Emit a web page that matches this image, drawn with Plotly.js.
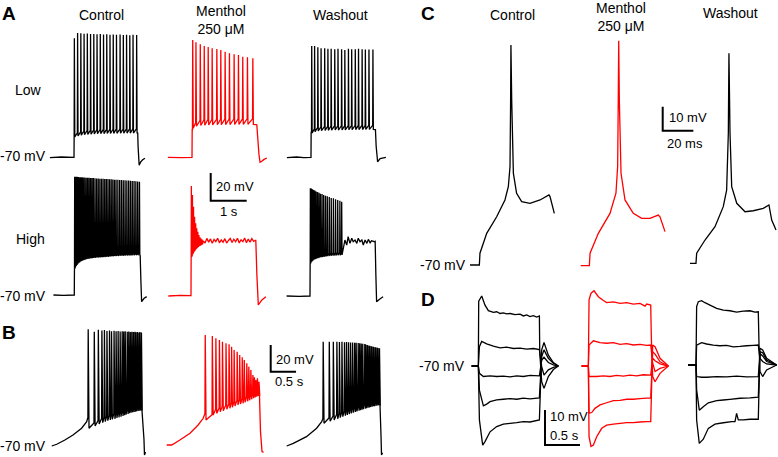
<!DOCTYPE html>
<html>
<head>
<meta charset="utf-8">
<script src="https://cdn.plot.ly/plotly-3.0.1.min.js"></script>
<style>html,body{margin:0;padding:0;background:#fff;}#chart{width:778px;height:457px;}</style>
</head>
<body>
<div id="chart"></div>
<script>
// ================= DATA =================
// Text
const conditionLabels = ['Control', 'Menthol<br>250 μM', 'Washout'];
const rowLabels = ['Low', 'High'];
const panelLetters = ['A', 'B', 'C', 'D'];
const restLabel = '-70 mV';
// Scale bars: [A, B, C, D]
const scaleMV = [20, 20, 10, 10];
const scaleT = [1, 0.5, 20, 0.5];
const scaleMVLabels = ['20 mV', '20 mV', '10 mV', '10 mV'];
const scaleTLabels = ['1 s', '0.5 s', '20 ms', '0.5 s'];

// ---- Panel A, low current (time s, voltage mV) ----
const aLowCtrlPre = [[-0.67,-70.2],[-0.35,-69.8],[0,-70],[0.004,-55.5]];
const aLowCtrlSpikeT = [0.01,0.10,0.19,0.28,0.37,0.46,0.55,0.64,0.73,0.82,0.91,1.00,1.09,1.18,1.28,1.37,1.46,1.55,1.64,1.74];
const aLowCtrlPeak = [16.0,19.8,19.5,19.2,19.4,19.0,19.1,18.8,19.0,18.7,18.8,18.5,18.7,18.4,18.6,18.3,18.5,18.2,18.4,18.3];
const aLowCtrlTrough = [-55.3,-54.6,-54.0,-53.7,-53.5,-53.3,-53.1,-53.0,-52.9,-52.9,-52.8,-52.8,-52.7,-52.7,-52.6,-52.6,-52.5,-52.5,-52.5,-52.4];
const aLowCtrlPost = [[1.77,-52.5],[1.78,-62],[1.81,-75.8],[1.85,-73.5],[1.90,-72],[1.97,-70.7]];

const aLowMentPre = [[-0.67,-70],[-0.3,-70.2],[0,-70],[0.005,-50]];
const aLowMentSpikeT = [0.02,0.11,0.23,0.34,0.45,0.56,0.69,0.80,0.92,1.04,1.17,1.29,1.41,1.54,1.69];
const aLowMentPeak = [14.7,13.0,11.6,10.4,9.6,8.7,8.2,7.5,6.2,5.1,4.4,3.9,2.6,2.2,1.5];
const aLowMentTrough = [-49.0,-47.5,-47.0,-46.8,-46.7,-46.6,-46.5,-46.5,-46.4,-46.4,-46.3,-46.3,-46.2,-46.2,-46.2];
const aLowMentPost = [[1.80,-46.5],[1.86,-68],[1.89,-73.6],[1.93,-73],[2.0,-71.5],[2.08,-70.5]];

const aLowWashPre = [[-0.67,-70.3],[-0.4,-69.8],[-0.2,-70.2],[0,-70],[0.004,-52]];
const aLowWashSpikeT = [0.02,0.10,0.19,0.28,0.38,0.47,0.56,0.66,0.75,0.85,0.94,1.04,1.13,1.23,1.32,1.42,1.51,1.61,1.72];
const aLowWashPeak = [10.4,10.4,9.5,8.8,8.8,8.3,8.3,8.0,8.3,8.0,7.5,8.3,8.0,8.0,8.3,8.0,7.8,7.8,7.8];
const aLowWashTrough = [-52.5,-51.5,-51.0,-50.8,-50.6,-50.5,-50.4,-50.3,-50.3,-50.2,-50.2,-50.1,-50.1,-50.0,-50.0,-50.0,-49.9,-49.9,-49.9];
const aLowWashPost = [[1.79,-50],[1.81,-62],[1.85,-73.2],[1.92,-70.9],[2.08,-70]];

// ---- Panel A, high current ----
const aHighCtrlPre = [[-0.58,-70],[-0.3,-70.2],[0,-70],[0.004,-52]];
const aHighCtrlSpikeT = [0.01,0.04,0.075,0.11,0.145,0.18,0.215,0.25,0.29,0.33,0.37,0.41,0.45,0.49,0.53,0.575,0.62,0.665,0.71,0.755,0.80,0.845,0.89,0.935,0.98,1.025,1.07,1.115,1.16,1.21,1.26,1.31,1.36,1.41,1.46,1.51,1.56,1.61,1.66,1.71,1.76,1.81];
const aHighCtrlPeak = [15.4,15.3,15.3,15.2,15.1,15.0,15.0,14.9,14.8,14.7,14.7,14.6,14.5,14.4,14.4,14.3,14.2,14.1,14.0,14.0,13.9,13.8,13.7,13.7,13.6,13.5,13.4,13.3,13.3,13.2,13.1,13.0,12.9,12.8,12.7,12.6,12.5,12.4,12.3,12.1,12.0,11.8];
const aHighCtrlTrough = [-50.7,-49.2,-48.0,-47.0,-46.2,-45.6,-45.1,-44.7,-44.4,-44.1,-43.9,-43.7,-43.5,-43.4,-43.2,-43.1,-43.0,-42.9,-42.8,-42.7,-42.6,-42.5,-42.4,-42.3,-42.2,-42.1,-42.0,-41.9,-41.9,-41.8,-41.7,-41.7,-41.6,-41.5,-41.5,-41.4,-41.4,-41.3,-41.3,-41.2,-41.2,-41.1];
const aHighCtrlPost = [[1.83,-41.5],[1.85,-60],[1.87,-74.8],[1.94,-72.4],[2.01,-71.2]];

const aHighMentPre = [[-0.63,-70.2],[-0.3,-69.8],[0,-70],[0.004,-42]];
const aHighMentSpikeT = [0.01,0.04,0.07,0.10,0.13,0.16,0.19,0.22,0.25,0.28,0.31];
const aHighMentPeak = [9.2,2.7,-5.7,-13.0,-17.7,-21.3,-23.8,-26.2,-27.8,-28.8,-29.4];
const aHighMentTrough = [-41.8,-39.9,-38.4,-37.4,-36.3,-35.6,-34.8,-34.1,-33.8,-33.4,-33.0];
const aHighMentPlateauT = [0.34,0.39,0.44,0.49,0.54,0.59,0.64,0.69,0.74,0.79,0.84,0.89,0.94,0.99,1.04,1.09,1.14,1.19,1.24,1.29,1.34,1.39,1.44,1.49,1.54,1.59,1.64,1.69,1.74,1.79];
const aHighMentPlateauV = [-30.4,-32.0,-28.6,-31.3,-29.0,-32.1,-29.4,-30.9,-28.5,-31.8,-29.7,-31.4,-28.8,-32.0,-30.1,-28.7,-31.6,-29.2,-31.1,-28.5,-31.9,-29.6,-31.0,-28.4,-31.7,-29.1,-31.3,-28.8,-30.8,-30.0];
const aHighMentPost = [[1.80,-30],[1.83,-55],[1.87,-76.7],[1.97,-73.1],[2.08,-70.7]];

const aHighWashPre = [[-0.65,-70],[-0.3,-70.2],[0,-70],[0.004,-47]];
const aHighWashSpikeT = [0.01,0.04,0.07,0.10,0.135,0.17,0.21,0.25,0.29,0.335,0.38,0.43,0.48,0.535,0.59,0.65,0.71,0.77,0.83,0.88];
const aHighWashPeak = [7.8,7.6,7.0,6.6,6.1,5.4,5.0,4.6,3.9,3.6,3.0,2.4,2.1,1.4,0.8,0.5,-0.2,-0.6,-1.3,-2.0];
const aHighWashTrough = [-46.5,-45.2,-44.4,-43.8,-43.3,-42.9,-42.6,-42.3,-42.0,-41.8,-41.6,-41.4,-41.2,-41.0,-40.9,-40.8,-40.7,-40.6,-40.5,-40.4];
const aHighWashPlateauT = [0.97,1.02,1.06,1.11,1.16,1.20,1.25,1.30,1.34,1.39,1.44,1.48,1.53,1.58,1.62,1.67,1.71,1.79];
const aHighWashPlateauV = [-29.6,-33.2,-27.2,-32.0,-28.3,-30.8,-29.6,-32.0,-28.3,-30.8,-29.6,-33.2,-29.6,-32.0,-29.1,-31.5,-30.1,-30.8];
const aHighWashPost = [[1.81,-30.5],[1.83,-55],[1.85,-74.1],[1.94,-72.2],[2.03,-70.5]];

// ---- Panel B, ramp current ----
const bCtrlPre = [[0,-70],[0.10,-68.7],[0.26,-65.5],[0.42,-61.8],[0.59,-56.7],[0.69,-51.8],[0.715,-48.5]];
const bCtrlSpikeT = [0.72,0.84,0.92,0.99,1.04,1.09,1.14,1.18,1.23,1.27,1.31,1.35,1.39,1.42,1.45,1.49,1.52,1.55,1.58,1.61,1.64,1.66,1.69,1.72,1.74,1.77];
const bCtrlPeak = [17.4,15.6,17.0,16.5,16.8,16.2,16.6,16.0,16.4,16.0,16.2,15.8,16.0,15.7,15.9,15.5,15.8,15.4,15.6,15.3,15.5,15.2,15.4,15.1,15.3,15.0];
const bCtrlTrough = [-56.7,-55.0,-53.5,-52.5,-51.8,-51.0,-50.5,-50.0,-49.6,-49.0,-48.5,-48.1,-47.5,-47.0,-46.6,-46.0,-45.5,-45.1,-44.8,-44.5,-44.3,-44.0,-43.8,-43.6,-43.3,-43.0];
const bCtrlPost = [[1.78,-43],[1.82,-65],[1.83,-76.7],[1.85,-74.5]];

const bMentPre = [[0,-70],[0.10,-70],[0.26,-66.3],[0.46,-61.2],[0.62,-55.0],[0.72,-50.0],[0.755,-46.3]];
const bMentSpikeT = [0.76,0.90,0.97,1.04,1.10,1.17,1.23,1.28,1.33,1.39,1.44,1.49,1.53,1.58,1.62,1.66,1.70,1.73,1.76,1.79,1.82];
const bMentPeak = [12.4,11.6,9.9,8.7,7.4,6.2,5.4,3.6,1.2,-0.1,-2.6,-4.3,-6.3,-8.8,-11.3,-13.8,-17.6,-19.3,-21.3,-20.0,-22.6];
const bMentTrough = [-51.3,-47.5,-46.3,-45.1,-44.3,-43.3,-42.5,-41.7,-40.8,-40.0,-39.3,-38.8,-38.0,-37.3,-36.5,-35.8,-35.0,-34.3,-33.8,-33.3,-32.8];
const bMentPost = [[1.83,-33],[1.85,-60],[1.88,-75],[1.91,-75.5]];

const bWashPre = [[0,-70],[0.13,-68.0],[0.39,-63.0],[0.59,-56.7],[0.69,-51.8],[0.715,-49.3]];
const bWashSpikeT = [0.72,0.84,0.92,0.99,1.04,1.09,1.14,1.18,1.22,1.26,1.30,1.34,1.37,1.41,1.44,1.47,1.50,1.54,1.56,1.59,1.62,1.64,1.67,1.70,1.72,1.75,1.78,1.80,1.83];
const bWashPeak = [8.1,8.1,8.0,8.1,7.9,8.0,7.8,7.9,7.7,7.6,7.6,7.4,7.3,7.2,7.0,6.8,6.6,6.4,6.0,5.6,5.3,5.0,4.8,4.5,4.2,4.0,3.7,3.4,3.2];
const bWashTrough = [-53,-51.5,-50.5,-49.6,-48.8,-48,-47.3,-46.7,-46.1,-45.5,-45,-44.5,-44,-43.6,-43.2,-42.8,-42.4,-42,-41.7,-41.4,-41.1,-40.8,-40.5,-40.3,-40.1,-39.9,-39.7,-39.5,-39.3];
const bWashPost = [[1.84,-39.3],[1.86,-62],[1.87,-76.7],[1.89,-75]];

// ---- Panel C, single spike (time ms, voltage mV) ----
const cCtrlT = [0,6.1,6.5,10.9,17.4,22.8,25.0,26.1,26.5,26.7,27.2,28.3,30.4,33.7,39.1,45.7,51.5,52.2,55.0];
const cCtrlV = [-70,-70,-65.1,-56.8,-49.9,-42.9,-37.4,-29.0,-1.25,21.7,-1.25,-31.8,-40.1,-43.6,-44.3,-42.9,-40.8,-41.5,-48.5];
const cMentT = [0,5.65,6.1,11.5,19.1,23.0,24.1,24.5,24.8,25.2,26.3,28.9,34.3,39.8,45.2,50.6,51.7,55.0];
const cMentV = [-70,-70,-64.8,-56.5,-48.2,-39.8,-28.7,-1.0,23.75,-1.0,-31.5,-42.6,-48.2,-50.25,-50.25,-48.9,-49.6,-55.8];
const cWashT = [0,3.9,4.35,9.8,16.3,21.7,23.9,25.0,25.4,26.1,27.2,30.5,35.9,41.3,47.8,51.5,53.3,56.1];
const cWashV = [-70,-70,-65.8,-60.3,-54.75,-46.4,-39.5,-15.8,17.5,-15.8,-38.1,-45.0,-48.5,-48.1,-47.1,-45.7,-52.0,-56.1];

// ---- Panel D, current steps (time s, voltage mV), five sweeps per condition ----
const dCtrlSweeps = [
  [[0,-70],[0.095,-70],[0.10,-51.5],[0.143,-50.0],[0.190,-52.6],[0.238,-54.2],[0.310,-54.7],[0.357,-54.5],[0.405,-55.0],[0.452,-54.8],[0.500,-55.1],[0.548,-55.0],[0.619,-55.3],[0.690,-55.2],[0.738,-55.7],[0.786,-55.4],[0.833,-55.9],[0.881,-55.6],[0.929,-56.0],[0.967,-55.7],[0.972,-66],[1.000,-74.5],[1.033,-76.4],[1.095,-73.0],[1.167,-71.0],[1.238,-70]],
  [[0,-70],[0.095,-70],[0.110,-64.5],[0.143,-63.0],[0.214,-63.7],[0.310,-64.3],[0.405,-64.8],[0.500,-64.6],[0.595,-65.0],[0.690,-64.9],[0.786,-65.2],[0.881,-65.0],[0.967,-65.3],[1.000,-70.2],[1.033,-72.6],[1.095,-71.1],[1.167,-70.4],[1.238,-70]],
  [[0,-70],[0.095,-70],[0.110,-72.1],[0.167,-73.0],[0.262,-72.8],[0.357,-73.0],[0.452,-72.9],[0.548,-73.1],[0.643,-72.8],[0.738,-73.0],[0.833,-72.7],[0.967,-72.8],[1.000,-68.3],[1.033,-67.5],[1.095,-69.0],[1.167,-69.7],[1.238,-70]],
  [[0,-70],[0.095,-70],[0.110,-76.9],[0.167,-81.4],[0.214,-80.9],[0.262,-80.2],[0.357,-79.7],[0.452,-79.5],[0.548,-79.3],[0.643,-79.5],[0.738,-79.2],[0.833,-79.4],[0.967,-79.1],[1.000,-67.3],[1.033,-65.4],[1.095,-67.8],[1.167,-69.2],[1.238,-70]],
  [[0,-70],[0.095,-70],[0.110,-85.4],[0.157,-92.6],[0.190,-91.6],[0.262,-88.8],[0.357,-87.3],[0.452,-86.6],[0.548,-86.4],[0.643,-86.2],[0.738,-85.9],[0.833,-86.0],[0.967,-85.4],[1.000,-65.4],[1.033,-63.3],[1.095,-66.9],[1.167,-69.0],[1.238,-70]]
];
const dMentSweeps = [
  [[0,-70],[0.095,-70],[0.105,-51.1],[0.133,-49.2],[0.176,-48.5],[0.238,-50.2],[0.310,-51.3],[0.357,-51.9],[0.452,-51.7],[0.548,-52.1],[0.643,-51.9],[0.738,-52.3],[0.833,-52.1],[0.905,-52.9],[0.929,-52.3],[0.986,-52.6],[0.995,-62],[1.014,-73.0],[1.048,-74.5],[1.119,-72.1],[1.238,-70]],
  [[0,-70],[0.095,-70],[0.105,-64.0],[0.167,-62.8],[0.262,-63.3],[0.357,-63.5],[0.452,-63.3],[0.548,-63.8],[0.643,-63.6],[0.738,-64.0],[0.833,-63.8],[0.929,-64.1],[0.986,-64.0],[1.014,-69.2],[1.048,-71.6],[1.119,-70.7],[1.238,-70]],
  [[0,-70],[0.095,-70],[0.105,-73.0],[0.214,-73.0],[0.310,-72.8],[0.405,-73.0],[0.500,-72.7],[0.595,-72.9],[0.690,-72.6],[0.786,-72.8],[0.881,-72.5],[0.986,-72.6],[1.014,-67.8],[1.048,-68.5],[1.119,-69.4],[1.238,-70]],
  [[0,-70],[0.095,-70],[0.105,-83.5],[0.143,-83.3],[0.190,-82.1],[0.262,-81.1],[0.357,-80.5],[0.452,-79.9],[0.548,-79.8],[0.643,-79.5],[0.738,-79.5],[0.833,-79.3],[0.929,-79.2],[0.986,-79.2],[1.014,-65.9],[1.048,-66.6],[1.119,-68.8],[1.238,-70]],
  [[0,-70],[0.095,-70],[0.105,-90.2],[0.133,-93.0],[0.167,-92.6],[0.214,-90.2],[0.286,-87.8],[0.357,-86.9],[0.452,-86.6],[0.548,-86.4],[0.643,-86.2],[0.738,-86.2],[0.833,-86.0],[0.929,-85.9],[0.986,-85.9],[1.014,-64.0],[1.048,-64.5],[1.119,-67.8],[1.238,-70]]
];
const dWashSweeps = [
  [[0,-70],[0.110,-70],[0.119,-53.3],[0.143,-51.9],[0.190,-51.6],[0.238,-52.2],[0.310,-52.9],[0.405,-53.8],[0.500,-54.3],[0.595,-54.5],[0.690,-54.9],[0.786,-54.6],[0.881,-54.5],[0.952,-54.9],[1.000,-54.8],[1.010,-64],[1.024,-71.9],[1.062,-73.3],[1.119,-71.4],[1.262,-70]],
  [[0,-70],[0.110,-70],[0.119,-64.3],[0.190,-63.6],[0.262,-64.0],[0.357,-64.3],[0.452,-64.5],[0.548,-64.4],[0.643,-64.8],[0.738,-64.7],[0.833,-64.5],[0.929,-64.4],[1.000,-64.3],[1.024,-68.1],[1.062,-69.0],[1.119,-69.7],[1.262,-70]],
  [[0,-70],[0.110,-70],[0.119,-73.3],[0.190,-73.5],[0.262,-73.5],[0.405,-73.3],[0.548,-73.4],[0.690,-73.2],[0.833,-73.4],[1.000,-73.3],[1.024,-66.7],[1.062,-67.4],[1.119,-69.0],[1.262,-70]],
  [[0,-70],[0.110,-70],[0.119,-77.1],[0.157,-82.9],[0.214,-81.9],[0.286,-80.8],[0.405,-80.2],[0.500,-80.0],[0.595,-79.8],[0.738,-79.5],[0.881,-79.4],[1.000,-79.2],[1.024,-66.2],[1.062,-66.5],[1.119,-68.6],[1.262,-70]],
  [[0,-70],[0.110,-70],[0.119,-85.7],[0.157,-92.4],[0.214,-91.2],[0.286,-88.1],[0.381,-86.9],[0.500,-86.5],[0.619,-86.2],[0.667,-86.2],[0.690,-83.8],[0.714,-85.7],[0.786,-85.7],[0.881,-85.5],[1.000,-85.5],[1.024,-65.2],[1.062,-65.7],[1.119,-68.1],[1.262,-70]]
];

// ================= LAYOUT / DRAWING =================
const W = 778, H = 457;
const FONT = 'Liberation Sans, Arial, Helvetica, sans-serif';
const BLACK = '#000000', RED = '#ff0000';
const LW = 1.3;
const layout = {
  width: W, height: H, margin: {l: 0, r: 0, t: 0, b: 0, pad: 0},
  paper_bgcolor: '#ffffff', plot_bgcolor: 'rgba(0,0,0,0)',
  showlegend: false, annotations: []
};
const traces = [];
let axCount = 0;
// Each recording gets its own pair of hidden axes: (X0,Y0) = pixel of (t0, v0), kx/ky = pixels per unit.
function makeAxes(X0, Y0, kx, ky, t0, v0) {
  t0 = (t0 === undefined) ? 0 : t0;
  v0 = (v0 === undefined) ? -70 : v0;
  axCount++;
  const s = axCount === 1 ? '' : String(axCount);
  layout['xaxis' + s] = {domain: [0, 1], range: [t0 - X0 / kx, t0 + (W - X0) / kx], visible: false, fixedrange: true, anchor: 'y' + s};
  layout['yaxis' + s] = {domain: [0, 1], range: [v0 - (H - Y0) / ky, v0 + Y0 / ky], visible: false, fixedrange: true, anchor: 'x' + s};
  return {xaxis: 'x' + s, yaxis: 'y' + s};
}
function addLine(ax, xs, ys, color, width) {
  traces.push({type: 'scatter', mode: 'lines', x: xs, y: ys, xaxis: ax.xaxis, yaxis: ax.yaxis,
    line: {color: color, width: width || LW, simplify: false}, hoverinfo: 'skip'});
}
function addPairs(ax, pairs, color, width) {
  addLine(ax, pairs.map(p => p[0]), pairs.map(p => p[1]), color, width);
}
// spike train: pre points, spikes (rise to peak, fall to trough), optional plateau, post points
function addTrain(ax, pre, T, Pk, Tr, post, color, shape, platT, platV) {
  const xs = [], ys = [];
  pre.forEach(p => { xs.push(p[0]); ys.push(p[1]); });
  const n = Math.min(T.length, Pk.length, Tr.length);
  for (let i = 0; i < n; i++) {
    const thr = i === 0 ? ys[ys.length - 1] : Tr[i - 1] + shape.gap;
    xs.push(T[i] - shape.rise); ys.push(thr);
    xs.push(T[i]); ys.push(Pk[i]);
    xs.push(T[i] + shape.fall); ys.push(Tr[i]);
  }
  if (platT) { for (let j = 0; j < platT.length; j++) { xs.push(platT[j]); ys.push(platV[j]); } }
  post.forEach(p => { xs.push(p[0]); ys.push(p[1]); });
  addLine(ax, xs, ys, color);
}

// --- Panel A (36 px/s, 1.385 px/mV) ---
const kxA = 36, kyA = 1.385;
const shapeA = {rise: 0.006, fall: 0.012, gap: 3};
addTrain(makeAxes(74, 157.3, kxA, kyA), aLowCtrlPre, aLowCtrlSpikeT, aLowCtrlPeak, aLowCtrlTrough, aLowCtrlPost, BLACK, shapeA);
addTrain(makeAxes(192, 157.3, kxA, kyA), aLowMentPre, aLowMentSpikeT, aLowMentPeak, aLowMentTrough, aLowMentPost, RED, {rise: 0.008, fall: 0.014, gap: 4});
addTrain(makeAxes(311, 157.3, kxA, kyA), aLowWashPre, aLowWashSpikeT, aLowWashPeak, aLowWashTrough, aLowWashPost, BLACK, shapeA);
addTrain(makeAxes(74.3, 295, kxA, kyA), aHighCtrlPre, aHighCtrlSpikeT, aHighCtrlPeak, aHighCtrlTrough, aHighCtrlPost, BLACK, {rise: 0.005, fall: 0.01, gap: 2});
addTrain(makeAxes(191, 295.7, kxA, kyA), aHighMentPre, aHighMentSpikeT, aHighMentPeak, aHighMentTrough, aHighMentPost, RED, {rise: 0.005, fall: 0.01, gap: 1}, aHighMentPlateauT, aHighMentPlateauV);
addTrain(makeAxes(310, 296, kxA, kyA), aHighWashPre, aHighWashSpikeT, aHighWashPeak, aHighWashTrough, aHighWashPost, BLACK, {rise: 0.005, fall: 0.01, gap: 2}, aHighWashPlateauT, aHighWashPlateauV);

// --- Panel B (50.7 px/s, 1.335 px/mV) ---
const kxB = 50.7, kyB = 1.335;
const shapeB = {rise: 0.006, fall: 0.016, gap: 4};
addTrain(makeAxes(51.7, 446, kxB, kyB), bCtrlPre, bCtrlSpikeT, bCtrlPeak, bCtrlTrough, bCtrlPost, BLACK, shapeB);
addTrain(makeAxes(166.7, 445, kxB, kyB), bMentPre, bMentSpikeT, bMentPeak, bMentTrough, bMentPost, RED, shapeB);
addTrain(makeAxes(286.7, 446, kxB, kyB), bWashPre, bWashSpikeT, bWashPeak, bWashTrough, bWashPost, BLACK, shapeB);

// --- Panel C (1.533 px/ms, 2.4 px/mV) ---
const kxC = 1.533, kyC = 2.4;
addLine(makeAxes(470, 265, kxC, kyC), cCtrlT, cCtrlV, BLACK);
addLine(makeAxes(580.7, 265.7, kxC, kyC), cMentT, cMentV, RED);
addLine(makeAxes(690, 263.3, kxC, kyC), cWashT, cWashV, BLACK);

// --- Panel D (70 px/s, 3.5 px/mV) ---
const kxD = 70, kyD = 3.5;
const axDc = makeAxes(471.7, 366, kxD, kyD);
dCtrlSweeps.forEach(s => addPairs(axDc, s, BLACK));
const axDm = makeAxes(581.7, 366, kxD, kyD);
dMentSweeps.forEach(s => addPairs(axDm, s, RED));
const axDw = makeAxes(688.3, 365, kxD, kyD);
dWashSweeps.forEach(s => addPairs(axDw, s, BLACK));

// --- Scale bars (L shapes; corner at pixel given, same scale as their panel) ---
const scaleCorners = [[210.7, 200.7, kxA, kyA], [270.7, 371.7, kxB, kyB], [662.7, 130.7, kxC, kyC], [545, 445, kxD, kyD]];
scaleCorners.forEach((c, i) => {
  const ax = makeAxes(c[0], c[1], c[2], c[3], 0, 0);
  addLine(ax, [0, 0, scaleT[i]], [scaleMV[i], 0, 0], BLACK, 2);
});

// --- Text ---
function ann(text, px, py, size, xanchor, bold) {
  layout.annotations.push({text: bold ? '<b>' + text + '</b>' : text, x: px / W, y: 1 - py / H,
    xref: 'paper', yref: 'paper', xanchor: xanchor || 'center', yanchor: 'middle', showarrow: false,
    font: {family: FONT, size: size, color: '#000'}});
}
ann(panelLetters[0], 9, 14, 19, 'center', true);
ann(panelLetters[1], 9, 332, 19, 'center', true);
ann(panelLetters[2], 428, 13.5, 19, 'center', true);
ann(panelLetters[3], 428, 299.5, 19, 'center', true);
[[101.7, 15], [220.5, 19.5], [340.7, 15]].forEach((p, i) => ann(conditionLabels[i], p[0], p[1], 14));
[[512.3, 15], [621.3, 16.7], [730.7, 13.3]].forEach((p, i) => ann(conditionLabels[i], p[0], p[1], 14));
ann(rowLabels[0], 28.3, 90, 14);
ann(rowLabels[1], 30.7, 239.3, 14);
[[48, 156.5], [48, 295.5], [48, 445.5], [468.3, 265], [466.7, 366]].forEach(p => ann(restLabel, p[0], p[1], 14, 'right'));
ann(scaleMVLabels[0], 213.5, 186, 13, 'left');
ann(scaleTLabels[0], 229.3, 211.7, 13);
ann(scaleMVLabels[1], 274, 359.3, 13, 'left');
ann(scaleTLabels[1], 289.3, 381.7, 13);
ann(scaleMVLabels[2], 666.5, 117.3, 13, 'left');
ann(scaleTLabels[2], 685, 143.3, 13);
ann(scaleMVLabels[3], 547.5, 416.7, 13, 'left');
ann(scaleTLabels[3], 564.5, 435, 13);

Plotly.newPlot('chart', traces, layout, {staticPlot: true, displayModeBar: false});
</script>
</body>
</html>
